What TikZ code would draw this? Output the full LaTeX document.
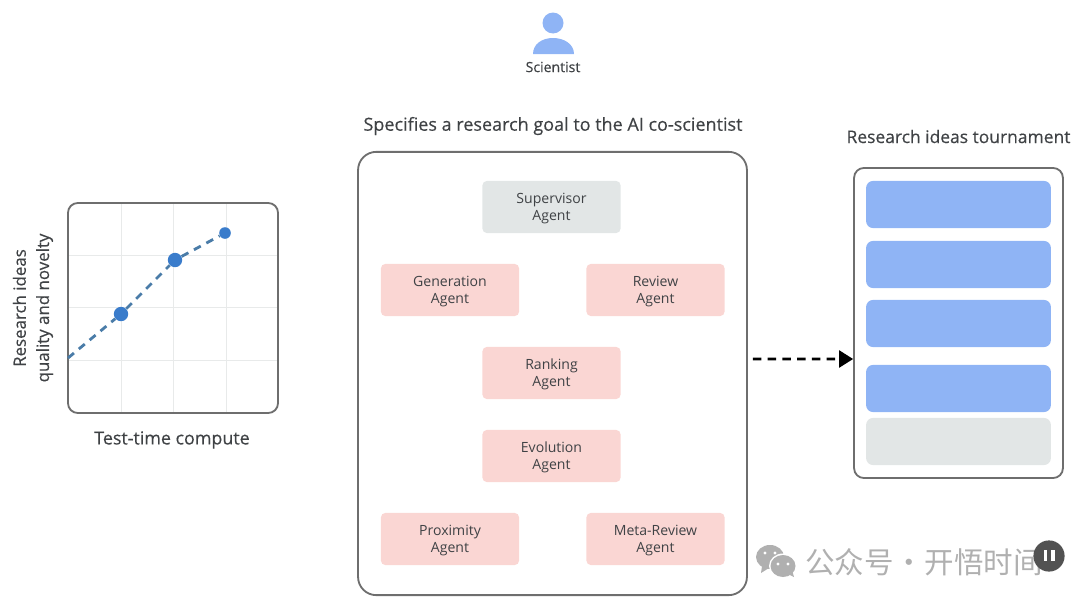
\documentclass[tikz,border=0pt]{standalone}
\usepackage{fontspec}
\setmainfont{Open Sans}
\newfontfamily\headfont[FakeBold=0.35]{Open Sans}
\newfontfamily\cjkfont{Noto Sans CJK SC}
\usetikzlibrary{arrows.meta, positioning, shapes.geometric}
\definecolor{inkgray}{HTML}{3F4245}
\definecolor{framegray}{HTML}{6E6E6E}
\definecolor{gridgray}{HTML}{E8EAEA}
\definecolor{ideablue}{HTML}{8FB4F5}
\definecolor{idlegray}{HTML}{E2E6E6}
\definecolor{agentpink}{HTML}{FAD6D3}
\definecolor{dotblue}{HTML}{3A7CCB}
\definecolor{dashblue}{HTML}{4A7CA8}
\definecolor{markgray}{HTML}{B0B0B0}
\begin{document}
\begin{tikzpicture}[x=0.025cm, y=-0.025cm]
  \tikzstyle{agentnode} = [rectangle, rounded corners=3pt, minimum width=3.45cm, minimum height=1.3cm, align=center, inner sep=0pt, fill=agentpink, text=inkgray, font=\fontsize{10}{12}\selectfont, text depth=0pt]
  \tikzstyle{supernode} = [agentnode, fill=idlegray]
  \tikzstyle{panel} = [rectangle, rounded corners=7pt, draw=framegray, line width=1.3pt, inner sep=0pt]
  \tikzstyle{ideabar} = [rectangle, rounded corners=5pt, minimum width=4.62cm, minimum height=1.18cm, inner sep=0pt, fill=ideablue]
  \tikzstyle{heading} = [text=inkgray, inner sep=0pt, font=\headfont\fontsize{12.8}{15}\selectfont]
  \tikzstyle{dot} = [circle, inner sep=0pt, fill=dotblue]
  \tikzstyle{connector} = [line width=2pt, dash pattern=on 6pt off 4.5pt, -{Triangle[length=10pt, width=12pt]}]
  \useasboundingbox (0,0) rectangle (1080,605);

  % Scientist
  \fill[ideablue] (553,23) circle (10.5);
  \fill[ideablue] (533,54) .. controls (533,44) and (542,38) .. (553,38) .. controls (564,38) and (574,44) .. (574,54) -- cycle;
  \node (scientist) at (553,67) [heading, font=\headfont\fontsize{10}{12}\selectfont] {Scientist};

  % Middle: agents
  \node (goal) at (553,126) [heading] {Specifies a research goal to the AI co-scientist};
  \node (system) at (552.5,373.5) [panel, rounded corners=13pt, minimum width=9.72cm, minimum height=11.08cm] {};
  \node (supervisor) at (551.5,207) [supernode] {Supervisor\\Agent};
  \node (generation) at (450,290) [agentnode] {Generation\\Agent};
  \node (review) at (655.5,290) [agentnode] {Review\\Agent};
  \node (ranking) at (551.5,373) [agentnode] {Ranking\\Agent};
  \node (evolution) at (551.5,456) [agentnode] {Evolution\\Agent};
  \node (proximity) at (450,539) [agentnode] {Proximity\\Agent};
  \node (metareview) at (655.5,539) [agentnode] {Meta-Review\\Agent};

  % Right side: tournament
  \node (tournament) at (958.5,323) [panel, minimum width=5.22cm, minimum height=7.75cm] {};
  \node (title) at (958.5,136.5) [heading, font=\headfont\fontsize{12.4}{15}\selectfont] {Research ideas tournament};
  \foreach \name/\ypos in {ideaA/204.5, ideaB/264.5, ideaC/323.5, ideaD/388.5}
    \node (\name) at (958.5,\ypos) [ideabar] {};
  \node (ideaE) at (958.5,441.5) [ideabar, fill=idlegray] {};

  % Left side: chart
  \node (chart) at (173,308) [panel, minimum width=5.25cm, minimum height=5.25cm] {};
  \foreach \xpos in {121,173,226}
    \draw[gridgray, line width=.7pt] (\xpos,204) -- (\xpos,412);
  \foreach \ypos in {255,307,360}
    \draw[gridgray, line width=.7pt] (69,\ypos) -- (277,\ypos);
  \coordinate (start) at (68,358);
  \node (low) at (121,314) [dot, minimum size=.36cm] {};
  \node (mid) at (175,260) [dot, minimum size=.36cm] {};
  \node (high) at (225,233) [dot, minimum size=.29cm] {};
  \draw[dashblue, line width=2pt, dash pattern=on 5.5pt off 4.5pt] (start) -- (low) -- (mid) -- (high);
  \node (yaxis) at (33,308) [rotate=90, align=center, text=inkgray, inner sep=0pt, font=\headfont\fontsize{12}{16.5}\selectfont] {Research ideas\\quality and novelty};
  \node (xaxis) at (172,440) [heading, font=\headfont\fontsize{12.7}{15}\selectfont] {Test-time compute};

  % Arrows
  \coordinate (leave) at ([shift={(5,-14.5)}]system.east);
  \coordinate (enter) at ([yshift=-0.9cm]tournament.west);
  \draw[connector] (leave) -- (enter);

  % Watermark
  \fill[markgray] (770,557) ellipse (14 and 12);
  \fill[markgray] (762,566) -- (761,573) -- (769,568) -- cycle;
  \fill[white] (783,566) ellipse (14 and 12.5);
  \fill[markgray] (783,566) ellipse (12.5 and 11);
  \fill[markgray] (788,574) -- (794,577) -- (792,570) -- cycle;
  \foreach \xpos/\ypos in {765/553, 775/553, 778/564, 788/564}
    \fill[white] (\xpos,\ypos) circle (1.6);
  \node (mark) at (805,562) [anchor=west, inner sep=0pt, text=markgray, font=\cjkfont\fontsize{21}{24}\selectfont] {公众号\hspace{.02em}·\hspace{.02em}开悟时间};
  \node (pause) at (1049,556) [circle, minimum size=.78cm, inner sep=0pt, fill=black!68] {};
  \fill[white] (1043.5,549.5) rectangle (1047,561);
  \fill[white] (1051,549.5) rectangle (1054.5,561);
\end{tikzpicture}
\end{document}
